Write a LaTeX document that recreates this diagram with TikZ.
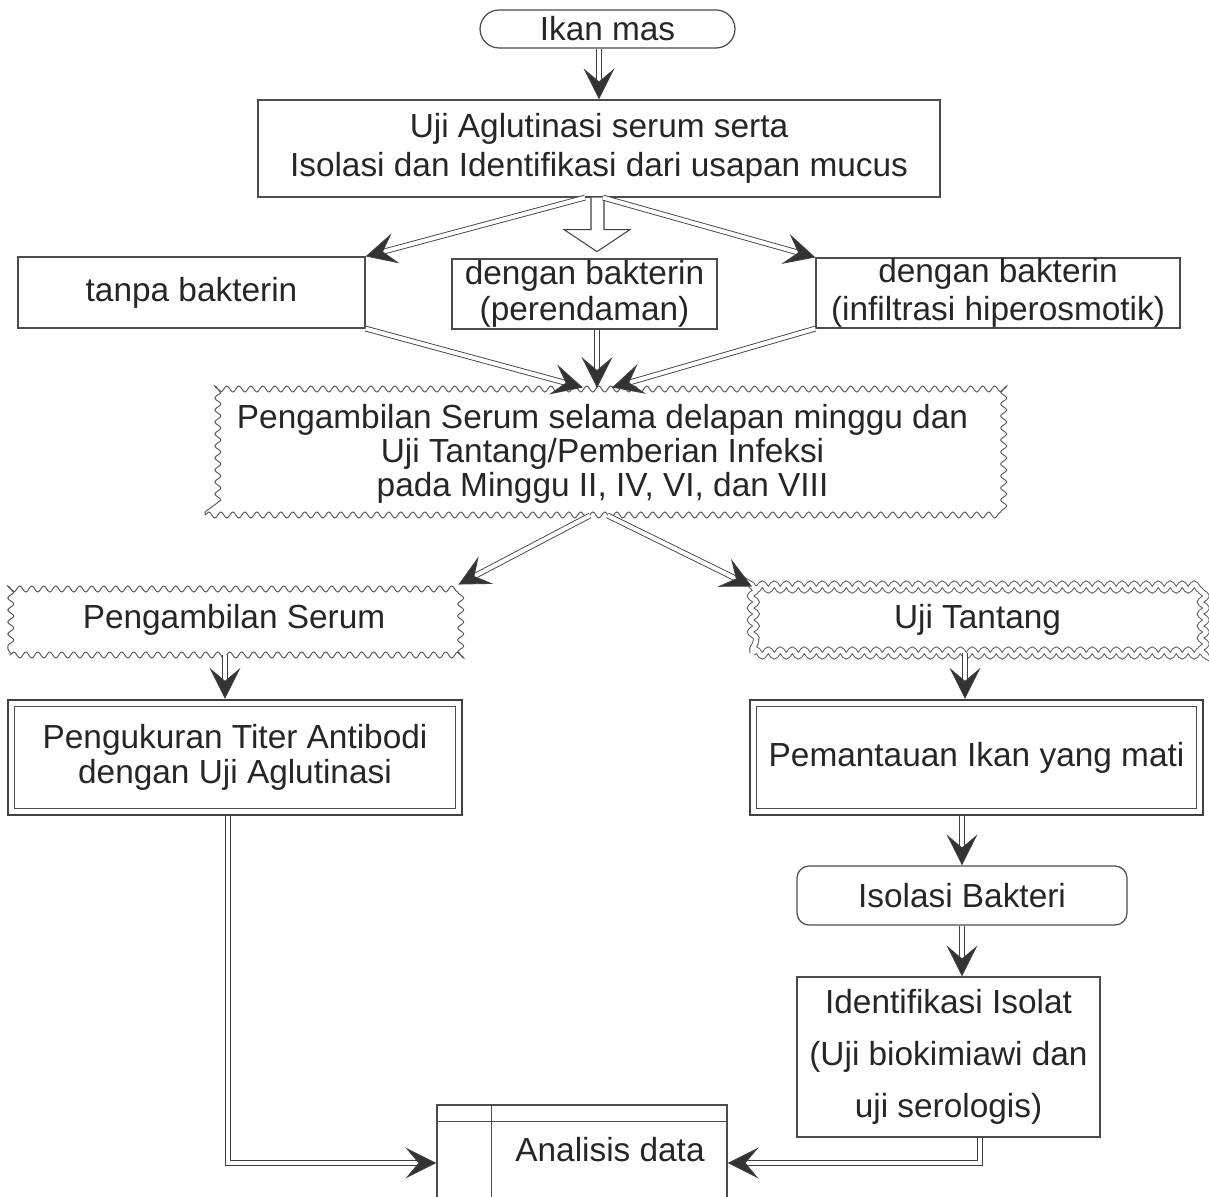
\documentclass[tikz,border=0pt]{standalone}
\usepackage{fontspec}
\setmainfont{Liberation Sans}
\usetikzlibrary{arrows.meta,decorations.pathmorphing}
\begin{document}
\begin{tikzpicture}[x=0.02cm,y=-0.02cm,
  every node/.style={font=\fontsize{19}{22}\selectfont, text=black!85, inner sep=0pt},
  box/.style={draw=black!70, line width=0.7pt, align=center},
  wavy/.style={draw=black!65, line width=0.55pt, decorate,
    decoration={snake, segment length=0.24cm, amplitude=0.06cm}, align=center},
  dblbox/.style={draw=black!75, line width=1.4pt, align=center},
  conn/.style={draw=black!75, line width=0.5pt, double=white, double distance=0.08cm,
    -{Stealth[length=0.62cm, width=0.62cm, inset=0.26cm, fill=black!80]}},
  hollow/.style={draw=black!75, line width=0.6pt, fill=white},
]
\useasboundingbox (0,0) rectangle (1209,1196);
\clip (0,0) rectangle (1209,1196);

% nodes
\node[box, rounded corners=0.38cm, minimum width=5.1cm, minimum height=0.76cm] (ikan) at (607.5,29) {Ikan mas};
\node[box, minimum width=13.64cm, minimum height=1.94cm, font=\fontsize{19}{22.5}\selectfont] (uji) at (599,148.5)
  {Uji Aglutinasi serum serta\\Isolasi dan Identifikasi dari usapan mucus};
\node[box, minimum width=6.94cm, minimum height=1.42cm] (tanpa) at (191.5,292.5) {tanpa bakterin};
\node[box, minimum width=5.3cm, minimum height=1.4cm, font=\fontsize{19}{20.5}\selectfont] (dengan1) at (584.5,294)
  {dengan bakterin\\(perendaman)};
\node[box, minimum width=7.28cm, minimum height=1.4cm, font=\fontsize{19}{21.5}\selectfont] (dengan2) at (998,293)
  {dengan bakterin\\(infiltrasi hiperosmotik)};
\node[wavy, minimum width=15.9cm, minimum height=2.44cm, font=\fontsize{19}{19.3}\selectfont] (peng) at (602.5,454)
  {Pengambilan Serum selama delapan minggu dan\\Uji Tantang/Pemberian Infeksi\\pada Minggu II, IV, VI, dan VIII};
\node[wavy, minimum width=8.96cm, minimum height=1.4cm] (serum) at (234,620) {Pengambilan Serum};
\node[wavy, double=white, double distance=0.09cm, minimum width=9.0cm, minimum height=1.32cm] (tantang) at (977.5,620) {Uji Tantang};
\node[dblbox, minimum width=9.08cm, minimum height=2.3cm, font=\fontsize{19}{20}\selectfont] (pengukuran) at (235,757.5)
  {Pengukuran Titer Antibodi\\dengan Uji Aglutinasi};
\node[dblbox, minimum width=9.06cm, minimum height=2.3cm] (pemantauan) at (976.5,757.5) {Pemantauan Ikan yang mati};
\node[box, rounded corners=0.24cm, minimum width=6.6cm, minimum height=1.18cm] (isolasi) at (962,895.5) {Isolasi Bakteri};
\node[box, minimum width=6.06cm, minimum height=3.2cm, font=\fontsize{19}{29.5}\selectfont] (identifikasi) at (948.5,1057)
  {Identifikasi Isolat\\(Uji biokimiawi dan\\uji serologis)};
\node[box, minimum width=5.8cm, minimum height=2.5cm] (analisis) at (582,1167.5) {};
\node (anatext) at (610,1150) {Analisis data};

% inner frames
\draw[draw=black!70, line width=0.5pt] ([xshift=0.16cm,yshift=-0.16cm]pengukuran.north west) rectangle ([xshift=-0.16cm,yshift=0.16cm]pengukuran.south east);
\draw[draw=black!70, line width=0.5pt] ([xshift=0.16cm,yshift=-0.16cm]pemantauan.north west) rectangle ([xshift=-0.16cm,yshift=0.16cm]pemantauan.south east);
\draw[draw=black!70, line width=0.6pt] ([yshift=-0.34cm]analisis.north west) -- ([yshift=-0.34cm]analisis.north east);
\draw[draw=black!70, line width=0.6pt] ([xshift=1.1cm]analisis.north west) -- ([xshift=1.1cm]analisis.south west);

% connectors
\draw[conn] (ikan.south -| uji.north) -- (uji.north);
\draw[conn] ([xshift=-0.28cm]uji.south) -- (tanpa.north east);
\draw[hollow] ([xshift=-0.16cm]uji.south) -- ++(0,32) -- ++(-27,0) -- ++(33,22) -- ++(33,-22) -- ++(-26,0) -- ++(0,-32);
\draw[conn] ([xshift=0.08cm]uji.south) -- (dengan2.north west);

\coordinate (pin) at (597,388);
\draw[conn] (tanpa.south east) -- ([xshift=-0.39cm,yshift=0.1cm]peng.north);
\draw[conn] (dengan1.south -| pin) -- (pin);
\draw[conn] (dengan2.south west) -- ([xshift=0.19cm,yshift=0.1cm]peng.north);

\draw[conn] ([xshift=-0.25cm]peng.south) -- (serum.north east);
\draw[conn] ([xshift=0.1cm]peng.south) -- (tantang.north west);

\draw[conn] ([xshift=-0.18cm]serum.south) -- ([xshift=-0.18cm]serum.south |- pengukuran.north);
\draw[conn] ([xshift=-0.25cm]tantang.south) -- ([xshift=-0.25cm]tantang.south |- pemantauan.north);
\draw[conn] (isolasi.north |- pemantauan.south) -- (isolasi.north);
\draw[conn] (isolasi.south) -- (isolasi.south |- identifikasi.north);

\draw[conn] ([xshift=-0.14cm]pengukuran.south) |- ([yshift=0.09cm]analisis.west);
\draw[conn] ([xshift=0.63cm]identifikasi.south) |- ([yshift=0.09cm]analisis.east);
\end{tikzpicture}
\end{document}
